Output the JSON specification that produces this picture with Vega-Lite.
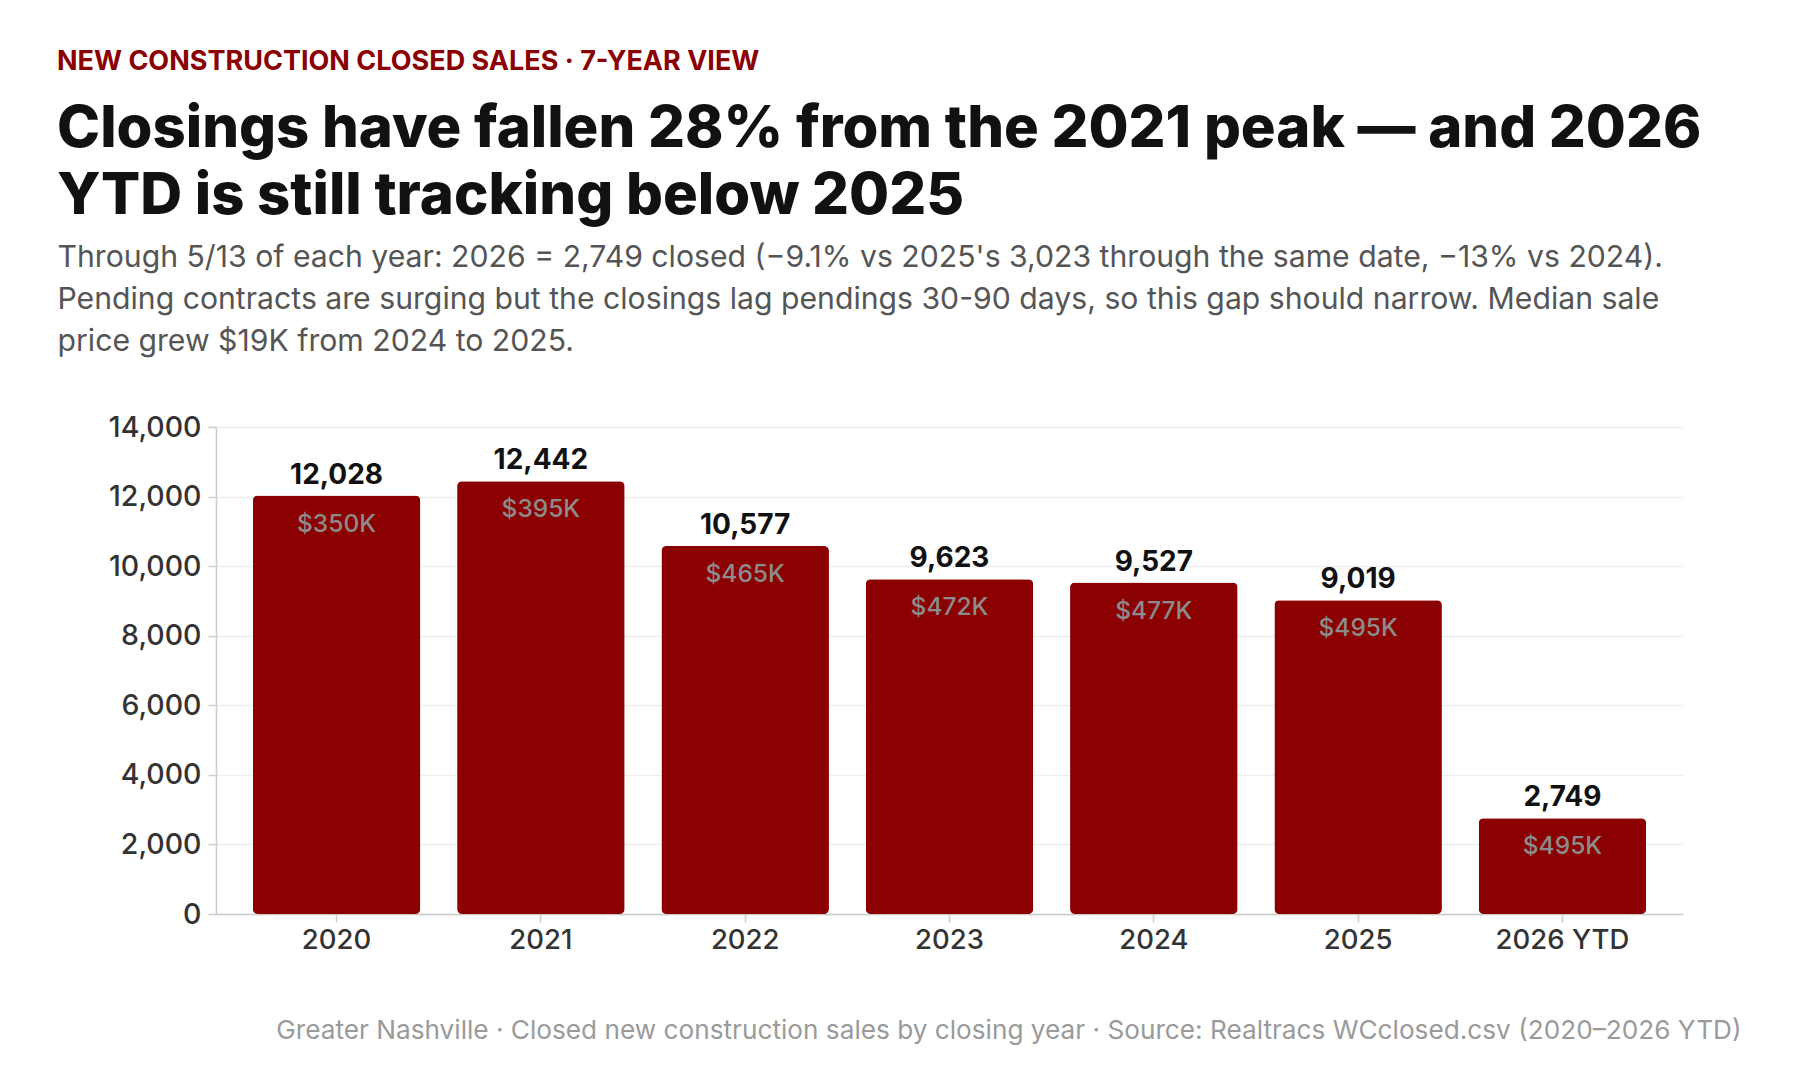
{
  "$schema": "https://vega.github.io/schema/vega-lite/v6.json",
  "width": 1467,
  "height": 487,
  "autosize": {"type": "none"},
  "padding": {"left": 216, "top": 427, "right": 117, "bottom": 166},
  "background": "#ffffff",
  "config": {
    "font": "Inter",
    "view": {"stroke": null}
  },
  "title": {
    "text": "NEW CONSTRUCTION CLOSED SALES · 7-YEAR VIEW",
    "subtitle": [
      "Closings have fallen 28% from the 2021 peak — and 2026",
      "YTD is still tracking below 2025"
    ],
    "anchor": "start",
    "frame": "group",
    "dx": -159,
    "offset": 15,
    "font": "Inter",
    "fontSize": 27,
    "fontWeight": 700,
    "color": "#8B0000",
    "subtitleFont": "Inter",
    "subtitleFontSize": 58,
    "subtitleFontWeight": 800,
    "subtitleColor": "#111111",
    "subtitleLineHeight": 67,
    "subtitlePadding": 25
  },
  "data": {
    "values": [
      {"year": "2020", "closed": 12028, "median_label": "$350K"},
      {"year": "2021", "closed": 12442, "median_label": "$395K"},
      {"year": "2022", "closed": 10577, "median_label": "$465K"},
      {"year": "2023", "closed": 9623, "median_label": "$472K"},
      {"year": "2024", "closed": 9527, "median_label": "$477K"},
      {"year": "2025", "closed": 9019, "median_label": "$495K"},
      {"year": "2026 YTD", "closed": 2749, "median_label": "$495K"}
    ]
  },
  "encoding": {
    "x": {
      "field": "year",
      "type": "nominal",
      "sort": null,
      "scale": {"paddingInner": 0.18, "paddingOuter": 0.18},
      "axis": {
        "title": "Greater Nashville · Closed new construction sales by closing year · Source: Realtracs WCclosed.csv (2020–2026 YTD)",
        "titleX": 1525,
        "titleY": 124,
        "titleAlign": "right",
        "titleBaseline": "alphabetic",
        "titleFont": "Inter",
        "titleFontSize": 26.2,
        "titleFontWeight": 400,
        "titleColor": "#9a9a9a",
        "labelAngle": 0,
        "labelFont": "Inter",
        "labelFontSize": 27.5,
        "labelFontWeight": 500,
        "labelColor": "#333333",
        "labelPadding": 4,
        "tickSize": 8,
        "tickColor": "#cccccc",
        "tickWidth": 1.5,
        "domainColor": "#cccccc",
        "domainWidth": 1.5,
        "grid": false
      }
    },
    "y": {
      "field": "closed",
      "type": "quantitative",
      "scale": {"domain": [0, 14000], "nice": false},
      "axis": {
        "title": [
          "Through 5/13 of each year: 2026 = 2,749 closed (−9.1% vs 2025's 3,023 through the same date, −13% vs 2024).",
          "Pending contracts are surging but the closings lag pendings 30-90 days, so this gap should narrow. Median sale",
          "price grew $19K from 2024 to 2025."
        ],
        "titleAngle": 0,
        "titleX": -159,
        "titleY": -161,
        "titleAlign": "left",
        "titleBaseline": "alphabetic",
        "titleFont": "Inter",
        "titleFontSize": 30.2,
        "titleFontWeight": 400,
        "titleColor": "#555555",
        "titleLineHeight": 42,
        "values": [0, 2000, 4000, 6000, 8000, 10000, 12000, 14000],
        "format": ",.0f",
        "labelFont": "Inter",
        "labelFontSize": 28.5,
        "labelFontWeight": 500,
        "labelColor": "#333333",
        "labelPadding": 7,
        "tickSize": 8,
        "tickColor": "#cccccc",
        "tickWidth": 1.5,
        "domainColor": "#cccccc",
        "domainWidth": 1.5,
        "gridColor": "#eeeeee",
        "gridWidth": 1.5
      }
    }
  },
  "layer": [
    {
      "mark": {"type": "bar", "color": "#8B0000", "cornerRadius": 5}
    },
    {
      "mark": {
        "type": "text",
        "baseline": "alphabetic",
        "dy": -12,
        "font": "Inter",
        "fontSize": 28,
        "fontWeight": 700,
        "color": "#111111"
      },
      "encoding": {"text": {"field": "closed", "type": "quantitative", "format": ","}}
    },
    {
      "mark": {
        "type": "text",
        "baseline": "alphabetic",
        "dy": 36,
        "font": "Inter",
        "fontSize": 24.5,
        "fontWeight": 500,
        "color": "#8c8c8c"
      },
      "encoding": {"text": {"field": "median_label", "type": "nominal"}}
    }
  ]
}
